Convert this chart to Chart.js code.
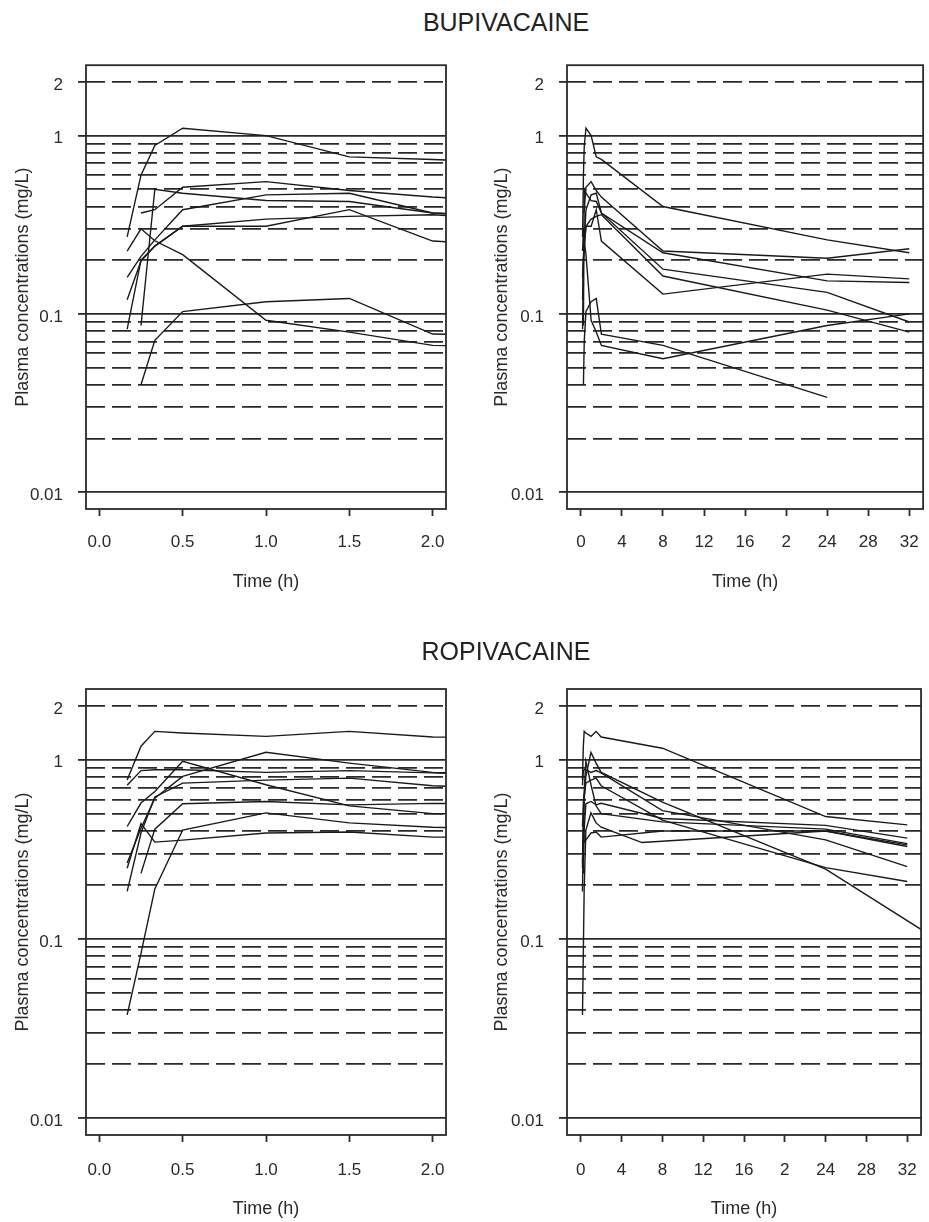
<!DOCTYPE html>
<html>
<head>
<meta charset="utf-8">
<script src="https://cdn.jsdelivr.net/npm/chart.js@4.4.1/dist/chart.umd.min.js"></script>
<style>
  html, body { margin: 0; padding: 0; background: #fff; overflow: hidden; }
  body { width: 929px; height: 1222px; position: relative; font-family: "Liberation Sans", Arial, sans-serif; }
  .title { position: absolute; left: 306px; width: 400px; text-align: center; font-size: 25px; line-height: 28px; color: #222; z-index: 2; }
  .panel { position: absolute; }
</style>
</head>
<body>
<div class="title" style="top:8px">BUPIVACAINE</div>
<div class="title" style="top:637px">ROPIVACAINE</div>

<div class="panel" style="left:0;top:40px"><canvas id="bupEarly" width="465" height="570"></canvas></div>
<div class="panel" style="left:465px;top:40px"><canvas id="bupLate" width="470" height="570"></canvas></div>
<div class="panel" style="left:0;top:660px"><canvas id="ropEarly" width="465" height="570"></canvas></div>
<div class="panel" style="left:465px;top:660px"><canvas id="ropLate" width="470" height="570"></canvas></div>

<script>
// sampling times (h) and plasma concentrations (mg/L), one array per patient
const bupTimes = [0.167, 0.25, 0.333, 0.5, 1, 1.5, 2, 8, 24, 32];
const bup1 = [0.27, 0.60, 0.88, 1.10, 1.00, 0.76, 0.735, 0.40, 0.26, 0.22];
const bup2 = [null, 0.368, 0.384, 0.513, 0.552, 0.492, 0.452, 0.225, 0.205, 0.232];
const bup3 = [null, 0.086, 0.50, 0.475, 0.432, 0.427, 0.368, 0.22, 0.153, 0.15];
const bup4 = [0.16, 0.21, 0.26, 0.384, 0.465, 0.475, 0.368, 0.178, 0.132, 0.09];
const bup5 = [0.082, 0.20, 0.24, 0.31, 0.31, 0.384, 0.256, 0.129, 0.167, 0.157];
const bup6 = [0.12, 0.198, 0.24, 0.31, 0.34, 0.352, 0.36, 0.163, 0.105, 0.079];
const bup7 = [0.225, 0.30, 0.257, 0.215, 0.092, 0.079, 0.0665, 0.056, 0.086, 0.10];
const bup8 = [null, 0.04, 0.071, 0.103, 0.117, 0.122, 0.077, 0.0665, 0.034, null];

const ropTimes = [0.167, 0.25, 0.333, 0.5, 1, 1.5, 2, 6, 8, 24, 32, 34];
const rop1 = [0.77, 1.19, 1.44, 1.41, 1.35, 1.44, 1.34, null, 1.16, 0.482, 0.433, null];
const rop2 = [0.72, 0.87, 0.88, 0.88, 0.85, 0.87, 0.845, null, 0.52, 0.357, 0.253, null];
const rop3 = [0.424, 0.573, 0.665, 0.98, 0.725, 0.553, 0.50, null, 0.45, 0.41, 0.34, null];
const rop4 = [0.265, 0.415, 0.61, 0.807, 1.10, 0.958, 0.85, null, 0.58, 0.245, null, 0.107];
const rop5 = [0.184, 0.39, 0.62, 0.74, 0.77, 0.79, 0.716, null, 0.46, 0.25, 0.209, null];
const rop6 = [null, 0.232, 0.41, 0.568, 0.585, 0.56, 0.571, null, 0.47, 0.43, 0.365, null];
const rop7 = [0.248, 0.44, 0.347, 0.356, 0.39, 0.395, 0.37, null, 0.40, 0.40, 0.328, null];
const rop8 = [0.0376, 0.083, 0.19, 0.405, 0.505, 0.444, 0.42, 0.345, null, 0.40, 0.335, null];

// axes
const yGrid = [0.01, 0.02, 0.03, 0.04, 0.05, 0.06, 0.07, 0.08, 0.09,
               0.1, 0.2, 0.3, 0.4, 0.5, 0.6, 0.7, 0.8, 0.9, 1, 2];
const ySolid = [0.01, 0.1, 1];
const yLabelValues = [0.01, 0.1, 1, 2];
const yLabels = ['0.01', '0.1', '1', '2'];
const earlyTicks = [0, 0.5, 1, 1.5, 2];
const earlyLabels = ['0.0', '0.5', '1.0', '1.5', '2.0'];
const lateTicks = [0, 4, 8, 12, 16, 20, 24, 28, 32];
const lateLabels = ['0', '4', '8', '12', '16', '2', '24', '28', '32'];

const FONT = '"Liberation Sans", Arial, sans-serif';
const TEXT = '#2a2a2a';
const GRID = '#2a2a2a';
const LINE = '#1a1a1a';

const boxPlugin = {
    id: 'box',
    afterDraw(chart) {
        const a = chart.chartArea;
        const ctx = chart.ctx;
        ctx.save();
        ctx.strokeStyle = GRID;
        ctx.lineWidth = 1.8;
        ctx.strokeRect(a.left, a.top, a.right - a.left, a.bottom - a.top);
        ctx.restore();
    }
};

// drop the missing samples so every line joins its own measured points
function makeDatasets(times, series) {
    return series.map(s => ({
        data: s.map((v, i) => ({ x: times[i], y: v })).filter(pt => pt.y !== null),
        borderColor: LINE,
        borderWidth: 1.4,
        pointRadius: 0,
        tension: 0,
        fill: false
    }));
}

function makePanel(id, times, series, p) {
    new Chart(document.getElementById(id), {
        type: 'line',
        data: { datasets: makeDatasets(times, series) },
        plugins: [boxPlugin],
        options: {
            responsive: false,
            animation: false,
            events: [],
            layout: { padding: { top: p.padTop, right: p.padRight, left: 0, bottom: 0 } },
            plugins: { legend: { display: false }, tooltip: { enabled: false } },
            scales: {
                x: {
                    type: 'linear',
                    min: p.xMin,
                    max: p.xMax,
                    afterBuildTicks: s => { s.ticks = p.xTicks.map(v => ({ value: v })); },
                    afterFit: s => { s.height = p.xAxisH; },
                    grid: { drawOnChartArea: false, drawTicks: true, tickLength: 7, tickWidth: 1.8, tickColor: GRID },
                    border: { display: false },
                    ticks: {
                        autoSkip: false, maxRotation: 0, padding: p.xTickPad, color: TEXT,
                        font: { size: 17, family: FONT },
                        callback: (v, i) => p.xLabels[i]
                    },
                    title: {
                        display: true, text: 'Time (h)', color: TEXT,
                        font: { size: 18, family: FONT },
                        padding: { top: 0, bottom: p.xTitlePad }
                    }
                },
                y: {
                    type: 'logarithmic',
                    min: Math.pow(10, -2.095),
                    max: Math.pow(10, 0.395),
                    afterBuildTicks: s => { s.ticks = yGrid.map(v => ({ value: v })); },
                    afterFit: s => { s.width = p.yAxisW; },
                    grid: {
                        color: GRID, lineWidth: 1.8, tickLength: 8, tickWidth: 1.8,
                        tickColor: c => (c.tick && yLabelValues.includes(c.tick.value)) ? GRID : 'rgba(0,0,0,0)'
                    },
                    border: {
                        display: false,
                        dash: c => (c.tick && !ySolid.includes(c.tick.value)) ? [19, 7] : []
                    },
                    ticks: {
                        autoSkip: false, padding: 15, labelOffset: 3, color: TEXT,
                        font: { size: 17, family: FONT },
                        callback: v => {
                            const k = yLabelValues.indexOf(v);
                            return k < 0 ? '' : yLabels[k];
                        }
                    },
                    title: {
                        display: true, text: 'Plasma concentrations (mg/L)', color: TEXT,
                        font: { size: 18, family: FONT },
                        padding: { top: p.yTitlePad, bottom: 0 }
                    }
                }
            }
        }
    });
}

const bupSeries = [bup1, bup2, bup3, bup4, bup5, bup6, bup7, bup8];
const ropSeries = [rop1, rop2, rop3, rop4, rop5, rop6, rop7, rop8];

const earlyTop = { xMin: -0.08, xMax: 2.08, xTicks: earlyTicks, xLabels: earlyLabels,
    padTop: 21, padRight: 19, yAxisW: 86, xAxisH: 101, xTickPad: 16, xTitlePad: 17, yTitlePad: 12 };
const lateTop = { xMin: -1.35, xMax: 33.35, xTicks: lateTicks, xLabels: lateLabels,
    padTop: 21, padRight: 7, yAxisW: 102, xAxisH: 101, xTickPad: 16, xTitlePad: 17, yTitlePad: 26 };
const earlyBottom = Object.assign({}, earlyTop, { padTop: 29, xAxisH: 95, xTickPad: 18, xTitlePad: 10 });
const lateBottom = Object.assign({}, lateTop, { padTop: 29, xAxisH: 95, xTickPad: 18, xTitlePad: 10 });

makePanel('bupEarly', bupTimes, bupSeries, earlyTop);
makePanel('bupLate', bupTimes, bupSeries, lateTop);
makePanel('ropEarly', ropTimes, ropSeries, earlyBottom);
makePanel('ropLate', ropTimes, ropSeries, lateBottom);
</script>
</body>
</html>
